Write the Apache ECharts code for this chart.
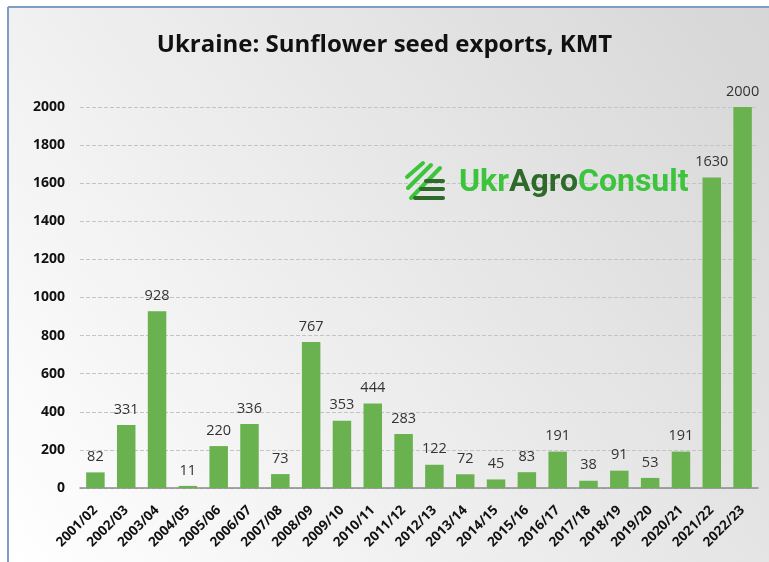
<!DOCTYPE html>
<html>
<head>
<meta charset="utf-8">
<script src="https://cdn.jsdelivr.net/npm/echarts@6/dist/echarts.min.js"></script>
<style>
  html, body { margin: 0; padding: 0; background: #fff; }
  #main { width: 769px; height: 562px; }
</style>
</head>
<body>
<div id="main"></div>
<script>
// marketing years
const seasons = ['2001/02', '2002/03', '2003/04', '2004/05', '2005/06', '2006/07', '2007/08',
  '2008/09', '2009/10', '2010/11', '2011/12', '2012/13', '2013/14', '2014/15', '2015/16',
  '2016/17', '2017/18', '2018/19', '2019/20', '2020/21', '2021/22', '2022/23']
// exports, thousand metric tons
const exportsKmt = [82, 331, 928, 11, 220, 336, 73, 767, 353, 444, 283, 122, 72, 45, 83,
  191, 38, 91, 53, 191, 1630, 2000]

const chart = echarts.init(document.getElementById('main'))

const greenLight = '#3cc43c'
const greenDark = '#2e6b2a'

// logo icon strokes
function stroke (x1, y1, x2, y2, color) {
  return {
    type: 'line',
    shape: { x1: x1, y1: y1, x2: x2, y2: y2 },
    style: { stroke: color, lineWidth: 4, lineCap: 'round' },
    z: 10
  }
}

const option = {
  animation: false,
  backgroundColor: 'transparent',
  title: {
    text: 'Ukraine: Sunflower seed exports, KMT',
    left: 'center',
    top: 28,
    textStyle: {
      fontFamily: 'Open Sans',
      fontWeight: 'bold',
      fontSize: 24,
      color: '#111'
    }
  },
  graphic: [
    {
      type: 'rect',
      shape: { x: 8, y: 7, width: 761, height: 555 },
      style: {
        fill: new echarts.graphic.LinearGradient(0, 1, 1, 0, [
          { offset: 0, color: '#ffffff' },
          { offset: 1, color: '#d6d6d6' }
        ])
      },
      z: -10
    },
    { type: 'line', shape: { x1: 8, y1: 7, x2: 8, y2: 562 }, style: { stroke: '#7f9dc4', lineWidth: 2 }, z: -9 },
    { type: 'line', shape: { x1: 8, y1: 7, x2: 769, y2: 7 }, style: { stroke: '#7f9dc4', lineWidth: 2 }, z: -9 },
    stroke(407, 177, 423, 163, greenLight),
    stroke(408, 188, 431, 165, greenLight),
    stroke(411, 198, 440, 168, greenLight),
    stroke(426, 181, 443, 181, greenDark),
    stroke(421, 189, 443, 189, greenDark),
    stroke(415, 198, 443, 198, greenDark),
    {
      type: 'text',
      left: 459,
      top: 167,
      z: 10,
      style: {
        text: '{a|Ukr}{b|Agro}{a|Consult}',
        rich: {
          a: { fontFamily: 'Roboto', fontWeight: 'bold', fontSize: 32, fill: greenLight },
          b: { fontFamily: 'Roboto', fontWeight: 'bold', fontSize: 32, fill: greenDark }
        }
      }
    }
  ],
  grid: {
    left: 80,
    right: 11,
    top: 107,
    bottom: 74
  },
  xAxis: {
    type: 'category',
    data: seasons,
    axisLine: { lineStyle: { color: '#8a8a8a', width: 1.5 } },
    axisTick: { show: false },
    axisLabel: {
      rotate: 45,
      interval: 0,
      margin: 20,
      fontFamily: 'Open Sans',
      fontWeight: 'bold',
      fontSize: 13.5,
      color: '#111'
    }
  },
  yAxis: {
    type: 'value',
    min: 0,
    max: 2000,
    interval: 200,
    axisLine: { show: false },
    axisTick: { show: false },
    splitLine: { lineStyle: { color: '#c4c4c4', type: 'dashed' } },
    axisLabel: {
      margin: 15,
      fontFamily: 'Open Sans',
      fontWeight: 'bold',
      fontSize: 14,
      color: '#111',
      formatter: function (value) {
        return String(value)
      }
    }
  },
  series: [{
    type: 'bar',
    data: exportsKmt,
    barCategoryGap: '40%',
    itemStyle: { color: '#6ab150' },
    label: {
      show: true,
      position: 'top',
      distance: 8,
      fontFamily: 'Open Sans',
      fontSize: 14.5,
      color: '#333'
    }
  }]
}

option && chart.setOption(option)
</script>
</body>
</html>
